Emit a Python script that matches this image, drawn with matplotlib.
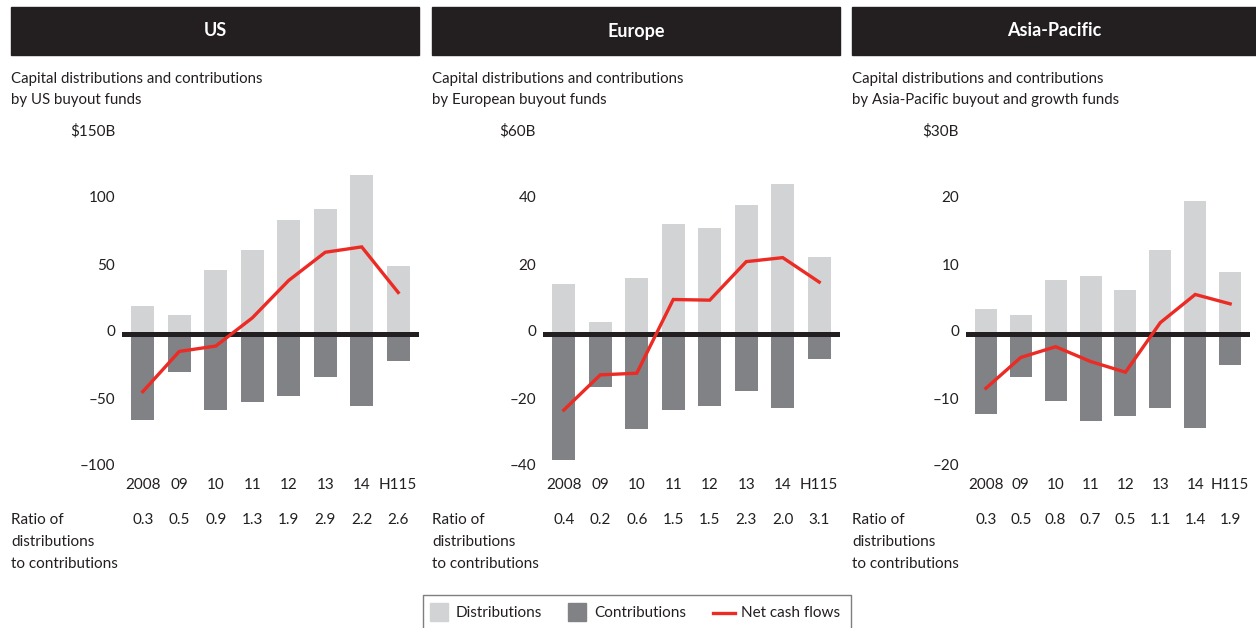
import matplotlib
matplotlib.use("Agg")
import matplotlib.pyplot as plt
from matplotlib.patches import Rectangle
from matplotlib.lines import Line2D
import matplotlib.transforms as mtransforms

plt.rcParams['font.family'] = ['Lato', 'DejaVu Sans']

# --- datos ---
years = ['2008', '09', '10', '11', '12', '13', '14', 'H115']

us_dist = [21, 14, 48, 63, 85, 93, 119, 51]
us_contrib = [-64, -28, -57, -51, -46, -32, -54, -20]
us_net = [-43, -13, -9, 12, 40, 61, 65, 31]
us_ratio = ['0.3', '0.5', '0.9', '1.3', '1.9', '2.9', '2.2', '2.6']

eu_dist = [15, 3.6, 16.7, 32.8, 31.6, 38.5, 44.8, 23]
eu_contrib = [-37.6, -15.8, -28.4, -22.7, -21.5, -17, -22.1, -7.5]
eu_net = [-22.7, -12.2, -11.7, 10.3, 10.1, 21.6, 22.8, 15.5]
eu_ratio = ['0.4', '0.2', '0.6', '1.5', '1.5', '2.3', '2.0', '3.1']

ap_dist = [3.7, 2.8, 8.1, 8.7, 6.5, 12.6, 19.8, 9.2]
ap_contrib = [-11.9, -6.4, -10.0, -13.0, -12.2, -11.0, -14.0, -4.7]
ap_net = [-8.1, -3.5, -1.9, -4.1, -5.7, 1.7, 5.9, 4.5]
ap_ratio = ['0.3', '0.5', '0.8', '0.7', '0.5', '1.1', '1.4', '1.9']

titles = ['US', 'Europe', 'Asia-Pacific']
subtitles = [['Capital distributions and contributions', 'by US buyout funds'],
             ['Capital distributions and contributions', 'by European buyout funds'],
             ['Capital distributions and contributions', 'by Asia-Pacific buyout and growth funds']]
yticks = [[150, 100, 50, 0, -50, -100], [60, 40, 20, 0, -20, -40], [30, 20, 10, 0, -10, -20]]
ylabels = [['$150B', '100', '50', '0', '–50', '–100'],
           ['$60B', '40', '20', '0', '–20', '–40'],
           ['$30B', '20', '10', '0', '–10', '–20']]

LIGHT = '#d1d3d4'
DARK = '#808285'
RED = '#ec2b24'
BLACK = '#231f20'
TEXT = '#231f20'

W, H = 1256, 628
fig = plt.figure(figsize=(W / 100, H / 100), dpi=100)

def fx(x):
    return x / W

def fy(y):
    return 1 - y / H

# posiciones en pixeles de cada panel: (cabecera izq, cabecera der, eje izq, eje der)
panels = [(11, 419, 122, 419), (432, 840, 543, 840), (852, 1256, 966, 1250)]
datos = [(us_dist, us_contrib, us_net, us_ratio),
         (eu_dist, eu_contrib, eu_net, eu_ratio),
         (ap_dist, ap_contrib, ap_net, ap_ratio)]

ax_top, ax_bot = 133, 468

for i in range(3):
    hl, hr, al, ar = panels[i]
    dist, contrib, net, ratio = datos[i]

    # cabecera negra
    fig.patches.append(Rectangle((fx(hl), fy(55)), fx(hr - hl), 48 / H,
                                 transform=fig.transFigure, color=BLACK, zorder=0))
    fig.text(fx((hl + hr) / 2), fy(31), titles[i], color='white', fontsize=13,
             fontweight='bold', ha='center', va='center')
    fig.text(fx(hl), fy(79), subtitles[i][0], color=TEXT, fontsize=10.8,
             ha='left', va='center')
    fig.text(fx(hl), fy(100), subtitles[i][1], color=TEXT, fontsize=10.8,
             ha='left', va='center')

    ax = fig.add_axes([fx(al), fy(ax_bot), fx(ar - al), (ax_bot - ax_top) / H])
    x = list(range(len(years)))
    ax.bar(x, dist, width=0.63, color=LIGHT, zorder=1)
    ax.bar(x, contrib, width=0.63, color=DARK, zorder=1)
    ax.axhline(0, color=BLACK, lw=3.6, zorder=2)
    ax.plot(x, net, color=RED, lw=2.4, zorder=3, solid_joinstyle='miter')

    ax.set_xlim(-0.57, 7.57)
    ax.set_ylim(yticks[i][-1], yticks[i][0])
    ax.set_yticks(yticks[i])
    ax.set_yticklabels(ylabels[i])
    ax.set_xticks(x)
    ax.set_xticklabels(years)
    ax.tick_params(length=0, labelsize=11, labelcolor=TEXT)
    ax.tick_params(axis='y', pad=5)
    ax.tick_params(axis='x', pad=7)
    for lab in ax.get_yticklabels():
        lab.set_transform(lab.get_transform() +
                          mtransforms.ScaledTranslation(0, 3 / 100, fig.dpi_scale_trans))
    for s in ax.spines.values():
        s.set_visible(False)
    ax.patch.set_alpha(0)

    # fila de ratios
    trans = mtransforms.blended_transform_factory(ax.transData, fig.transFigure)
    for j, r in enumerate(ratio):
        ax.text(j, fy(520), r, transform=trans, ha='center', va='center',
                fontsize=11, color=TEXT)
    fig.text(fx(hl), fy(520), 'Ratio of', fontsize=11, color=TEXT, ha='left', va='center')
    fig.text(fx(hl), fy(542), 'distributions', fontsize=11, color=TEXT, ha='left', va='center')
    fig.text(fx(hl), fy(564), 'to contributions', fontsize=11, color=TEXT, ha='left', va='center')

# --- leyenda inferior ---
fig.lines.append(Line2D([fx(422.5), fx(422.5), fx(850.5), fx(850.5)],
                        [fy(640), fy(595), fy(595), fy(640)],
                        transform=fig.transFigure, color='#7f7f7f', lw=1.0))
fig.patches.append(Rectangle((fx(430), fy(621)), fx(18), 18 / H,
                             transform=fig.transFigure, color=LIGHT))
fig.text(fx(456), fy(613), 'Distributions', fontsize=11, color=TEXT, ha='left', va='center')
fig.patches.append(Rectangle((fx(568), fy(621)), fx(18), 18 / H,
                             transform=fig.transFigure, color=DARK))
fig.text(fx(594), fy(613), 'Contributions', fontsize=11, color=TEXT, ha='left', va='center')
fig.lines.append(Line2D([fx(713), fx(735)], [fy(612.5), fy(612.5)],
                        transform=fig.transFigure, color=RED, lw=2.4))
fig.text(fx(741), fy(613), 'Net cash flows', fontsize=11, color=TEXT, ha='left', va='center')

fig.savefig('out.png', dpi=100)
